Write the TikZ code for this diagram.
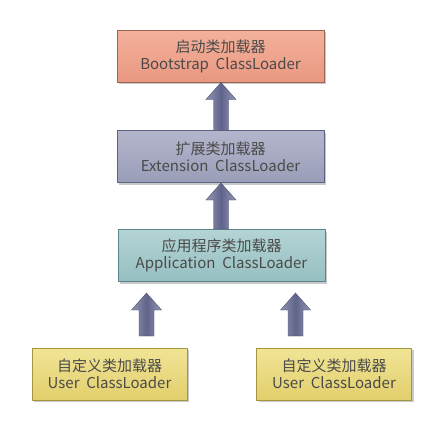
\documentclass[tikz,border=0pt]{standalone}
\usepackage{fontspec}
\setmainfont{Noto Sans CJK SC}
\usetikzlibrary{shadows}
\definecolor{txt}{HTML}{4A4A4A}
\definecolor{bsT}{HTML}{F3B29C}\definecolor{bsB}{HTML}{EA9880}\definecolor{bsD}{HTML}{9A6552}
\definecolor{exT}{HTML}{B3B6CB}\definecolor{exB}{HTML}{9A9DB8}\definecolor{exD}{HTML}{5E6180}
\definecolor{apT}{HTML}{B4D4D5}\definecolor{apB}{HTML}{96BFC1}\definecolor{apD}{HTML}{5E8486}
\definecolor{usT}{HTML}{F0E496}\definecolor{usB}{HTML}{E2CF6C}\definecolor{usD}{HTML}{A59440}
\definecolor{arE}{HTML}{9296B3}\definecolor{arC}{HTML}{60648A}
\tikzset{
  loader/.style={draw=#1D, line width=1pt, top color=#1T, bottom color=#1B,
    minimum width=207pt, minimum height=52pt, inner sep=0pt, align=center,
    font=\fontsize{15}{17}\selectfont, text=txt,
    drop shadow={shadow xshift=2pt, shadow yshift=-2pt, opacity=0.35, fill=black!60}},
  blockarrow/.style={left color=arE, right color=arE, middle color=arC, draw=arC!80!black, line width=0.4pt}
}
\begin{document}
\begin{tikzpicture}[x=1pt,y=-1pt]
\useasboundingbox (0,0) rectangle (430,426);
\fill[white] (0,0) rectangle (430,426);
\node[loader=bs] (bs) at (220.5,56) {启动类加载器\\Bootstrap\ \ ClassLoader};
\node[loader=ex] (ex) at (220.5,156.5) {扩展类加载器\\Extension\ \ ClassLoader};
\node[loader=ap] (ap) at (221.5,255.5) {应用程序类加载器\\Application\ \ ClassLoader};
\node[loader=us, minimum width=155pt] (u1) at (109.5,374) {自定义类加载器\\User\ \ ClassLoader};
\node[loader=us, minimum width=155pt] (u2) at (334,374) {自定义类加载器\\User\ \ ClassLoader};
\coordinate (t1) at (bs.south -| 221,0);
\coordinate (t2) at (ex.south -| 221,0);
\coordinate (t3) at (146.5,293);
\coordinate (t4) at (295.5,293);
\path[blockarrow] (t1) ++(-7.5,48) -- ++(0,-31) -- ++(-7.5,0) -- (t1) -- ++(15,17) -- ++(-7.5,0) -- ++(0,31) -- cycle;
\path[blockarrow] (t2) ++(-7.5,46) -- ++(0,-29) -- ++(-7.5,0) -- (t2) -- ++(15,17) -- ++(-7.5,0) -- ++(0,29) -- cycle;
\path[blockarrow] (t3) ++(-7.5,43) -- ++(0,-26) -- ++(-7.5,0) -- (t3) -- ++(15,17) -- ++(-7.5,0) -- ++(0,26) -- cycle;
\path[blockarrow] (t4) ++(-7.5,43) -- ++(0,-26) -- ++(-7.5,0) -- (t4) -- ++(15,17) -- ++(-7.5,0) -- ++(0,26) -- cycle;
\end{tikzpicture}
\end{document}
